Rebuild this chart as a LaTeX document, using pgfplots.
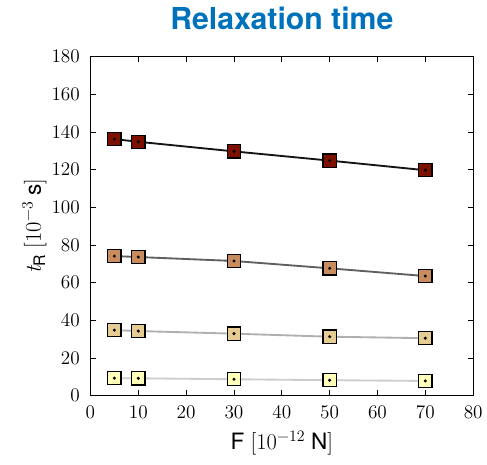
\documentclass[border=0pt]{standalone}
\usepackage{fontspec}
\setsansfont{TeX Gyre Heros}
\usepackage{pgfplots}
\pgfplotsset{compat=1.18}
\definecolor{c1}{RGB}{125,17,0}
\definecolor{c2}{RGB}{200,140,95}
\definecolor{c3}{RGB}{228,204,146}
\definecolor{c4}{RGB}{255,255,185}
\definecolor{l1}{RGB}{20,20,20}
\definecolor{l2}{RGB}{95,95,95}
\definecolor{l3}{RGB}{175,175,175}
\definecolor{l4}{RGB}{205,205,205}
\definecolor{titleblue}{RGB}{0,114,187}
\newcommand{\sups}[1]{\raisebox{0.85ex}{\fontsize{12}{13}\selectfont #1}}
\begin{document}
\begin{tikzpicture}
\begin{axis}[
  at={(0,0)}, anchor=south west,
  scale only axis,
  width=288.75pt, height=255.75pt,
  xmin=0, xmax=80, ymin=0, ymax=180,
  xtick={0,10,...,80}, ytick={0,20,...,180},
  /pgf/number format/assume math mode=true,
  tick align=inside, tick pos=both,
  major tick length=4pt,
  axis line style={line width=0.9pt},
  tick style={line width=0.6pt, black},
  tick label style={font=\fontsize{14.5}{17}\selectfont\rmfamily},
  xticklabel style={yshift=-4pt},
  yticklabel style={xshift=-4.5pt},
  xlabel={\sffamily F {\rmfamily[10\sups{−12}} N{\rmfamily]}},
  ylabel={{\rmfamily\itshape t}\raisebox{-0.45ex}{\fontsize{12}{13}\selectfont\sffamily R}\ {\rmfamily[10\sups{−3}} \sffamily s{\rmfamily]}},
  label style={font=\fontsize{17}{20}\selectfont},
  xlabel style={yshift=-2pt},
  ylabel style={yshift=-3pt},
  title={\sffamily\bfseries Relaxation time},
  title style={font=\fontsize{22.8}{26}\selectfont, text=titleblue, yshift=11pt},
  every axis plot/.append style={line width=1.4pt},
]
\addplot[l4, mark=square*, mark size=5pt, mark options={fill=c4, draw=black, line width=0.9pt}]
  coordinates {(5,9.3) (10,9.2) (30,8.7) (50,8.2) (70,7.8)};
\addplot[l3, mark=square*, mark size=5pt, mark options={fill=c3, draw=black, line width=0.9pt}]
  coordinates {(5,34.8) (10,34.3) (30,32.9) (50,31.3) (70,30.5)};
\addplot[l2, mark=square*, mark size=5pt, mark options={fill=c2, draw=black, line width=0.9pt}]
  coordinates {(5,74.1) (10,73.6) (30,71.5) (50,67.6) (70,63.5)};
\addplot[l1, mark=square*, mark size=5pt, mark options={fill=c1, draw=black, line width=0.9pt}]
  coordinates {(5,136.2) (10,134.8) (30,129.7) (50,124.8) (70,119.7)};
\addplot[only marks, mark=*, mark size=0.3pt, black]
  coordinates {(5,9.3) (10,9.2) (30,8.7) (50,8.2) (70,7.8)
  (5,34.8) (10,34.3) (30,32.9) (50,31.3) (70,30.5)
  (5,74.1) (10,73.6) (30,71.5) (50,67.6) (70,63.5)
  (5,136.2) (10,134.8) (30,129.7) (50,124.8) (70,119.7)};
\end{axis}
\path (-68.25pt,-51.75pt) rectangle (297pt,298.5pt);
\end{tikzpicture}
\end{document}
